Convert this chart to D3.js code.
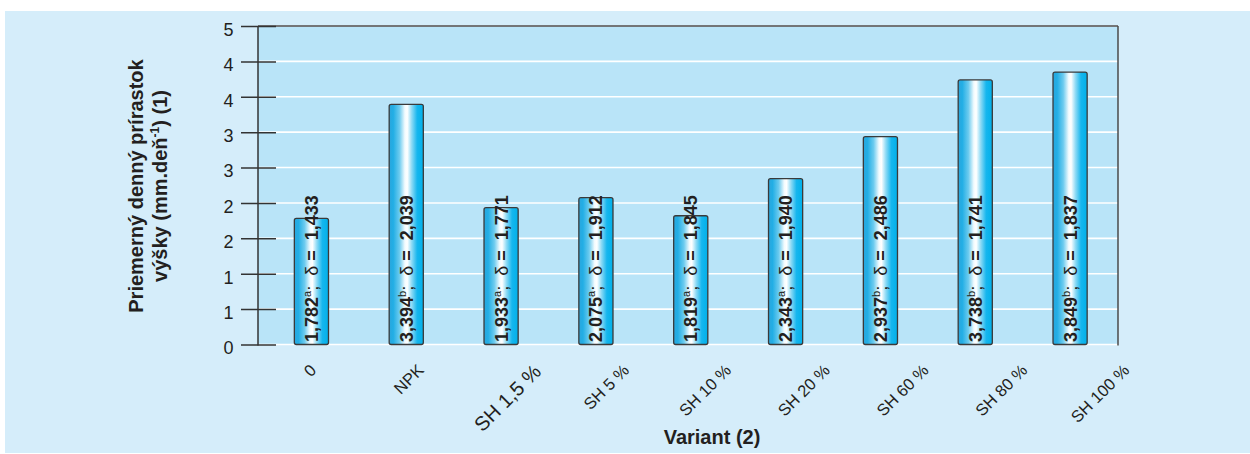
<!DOCTYPE html>
<html>
<head>
<meta charset="utf-8">
<script src="https://cdn.jsdelivr.net/npm/d3@7"></script>
<style>
  html, body { margin: 0; padding: 0; background: #ffffff; }
  svg { display: block; font-family: "Liberation Sans", Arial, sans-serif; }
</style>
</head>
<body>
<svg id="chart" width="1250" height="454"></svg>
<script>
// ---- data ----
const categories = ["0", "NPK", "SH 1,5 %", "SH 5 %", "SH 10 %", "SH 20 %", "SH 60 %", "SH 80 %", "SH 100 %"];
const means      = [1.782, 3.394, 1.933, 2.075, 1.819, 2.343, 2.937, 3.738, 3.849];
const meanLabels = ["1,782", "3,394", "1,933", "2,075", "1,819", "2,343", "2,937", "3,738", "3,849"];
const groups     = ["a", "b", "a", "a", "a", "a", "b", "b", "b"];
const deltas     = ["1,433", "2,039", "1,771", "1,912", "1,845", "1,940", "2,486", "1,741", "1,837"];
const tickValues = [0, 0.5, 1, 1.5, 2, 2.5, 3, 3.5, 4, 4.5];
const tickLabels = ["0", "1", "1", "2", "2", "3", "3", "4", "4", "5"];
const yTitle1 = "Priemerný denný prírastok";
const yTitle2a = "výšky (mm.deň";
const yTitle2sup = "-1";
const yTitle2b = ") (1)";
const xTitle = "Variant (2)";

// ---- layout ----
const svg = d3.select("#chart");
const W = 1250, H = 454;
const plot = { left: 258, right: 1118, top: 26, bottom: 344.5 };
const txt = "#231f20";

svg.append("rect").attr("x", 5).attr("y", 11).attr("width", W - 5).attr("height", H - 12)
  .attr("fill", "#d5edfa");

const y = d3.scaleLinear().domain([0, 4.5]).range([plot.bottom, plot.top]);
const x = d3.scaleBand().domain(categories).range([264, 1117.5]).paddingInner(0.64).paddingOuter(0.32);
const xl = d3.scalePoint().domain(categories).range([310, 1100]);

// plot background
svg.append("rect").attr("x", plot.left).attr("y", plot.top)
  .attr("width", plot.right - plot.left).attr("height", plot.bottom - plot.top)
  .attr("fill", "#b9e4f8");

// gridlines
svg.append("g").selectAll("line").data(tickValues).join("line")
  .attr("x1", plot.left).attr("x2", plot.right)
  .attr("y1", d => y(d)).attr("y2", d => y(d))
  .attr("stroke", "#ffffff").attr("stroke-width", 1.6);

// frame top and right
svg.append("line").attr("x1", plot.left).attr("x2", plot.right)
  .attr("y1", plot.top).attr("y2", plot.top).attr("stroke", "#4a4a4a").attr("stroke-width", 1.5);
svg.append("line").attr("x1", plot.right).attr("x2", plot.right)
  .attr("y1", plot.top).attr("y2", plot.bottom + 1).attr("stroke", "#4a4a4a").attr("stroke-width", 1.5);

// y axis
const yAxis = d3.axisLeft(y).tickValues(tickValues)
  .tickFormat((d, i) => tickLabels[i]).tickSize(17).tickPadding(7);
const gy = svg.append("g").attr("transform", `translate(${plot.left},0)`).call(yAxis);
gy.select(".domain").attr("stroke", "#333").attr("stroke-width", 1.5)
  .attr("d", `M0,${plot.top}V${plot.bottom + 1}`);
gy.selectAll(".tick line").attr("stroke", "#333").attr("stroke-width", 1.5)
  .attr("x1", 18).attr("x2", -17);
gy.selectAll(".tick text").attr("fill", txt).attr("font-size", 18)
  .attr("font-family", "Liberation Sans, Arial, sans-serif")
  .attr("y", 3).attr("dy", "0.35em").attr("x", -24.5);

// gradient
const defs = svg.append("defs");
const grad = defs.append("linearGradient").attr("id", "barGrad")
  .attr("x1", "0%").attr("x2", "100%").attr("y1", "0%").attr("y2", "0%");
[[0, "#2ba6dd"], [0.12, "#22aee5"], [0.3, "#6ccbef"], [0.46, "#f2fbfe"], [0.53, "#ffffff"],
 [0.66, "#8ddaf5"], [0.82, "#16b6ee"], [1, "#00b0ea"]]
  .forEach(([o, c]) => grad.append("stop").attr("offset", o).attr("stop-color", c));

// bars
svg.append("g").selectAll("rect").data(categories).join("rect")
  .attr("x", d => x(d)).attr("width", x.bandwidth())
  .attr("y", (d, i) => y(means[i])).attr("height", (d, i) => y(0) - y(means[i]))
  .attr("rx", 2).attr("ry", 2)
  .attr("fill", "url(#barGrad)").attr("stroke", "#3a3a3a").attr("stroke-width", 1.3);

// bar labels (rotated)
const bl = svg.append("g").selectAll("text").data(categories).join("text")
  .attr("transform", d => `translate(${x(d) + x.bandwidth() / 2 + 6.5},${y(0) - 2.5}) rotate(-90)`)
  .attr("font-size", 18).attr("fill", txt).attr("text-anchor", "start");
bl.each(function (d, i) {
  const t = d3.select(this);
  t.append("tspan").attr("font-weight", "bold").text(meanLabels[i]);
  t.append("tspan").attr("font-size", 11).attr("dy", -7).text(groups[i]);
  t.append("tspan").attr("dy", 7).attr("font-weight", "normal").text(";\u00A0\u00A0δ\u00A0");
  t.append("tspan").attr("font-weight", "bold").text("=\u00A0\u00A0" + deltas[i]);
});

// x labels
const xlab = svg.append("g").selectAll("text").data(categories).join("text")
  .attr("font-size", (d, i) => i === 2 ? 20 : 16.5).attr("fill", txt)
  .attr("text-anchor", "middle").attr("dy", "0.35em").text(d => d);
xlab.each(function (d, i) {
  const t = d3.select(this);
  const L = this.getComputedTextLength();
  const fs = i === 2 ? 20 : 16.5;
  const h = (L + fs * 0.72) * 0.7071;
  t.attr("transform", `translate(${xl(d)},${363 + h / 2}) rotate(-45)`);
});

// y title
const yt = svg.append("text").attr("transform", "translate(143,186) rotate(-90)")
  .attr("text-anchor", "middle").attr("font-weight", "bold").attr("font-size", 20).attr("fill", txt);
yt.append("tspan").attr("x", 0).attr("y", 0).text(yTitle1);
const yt2 = yt.append("tspan").attr("x", 0).attr("y", 24);
yt2.append("tspan").text(yTitle2a);
yt2.append("tspan").attr("font-size", 12).attr("dy", -8).text(yTitle2sup);
yt2.append("tspan").attr("dy", 8).text(yTitle2b);

// x title
svg.append("text").attr("x", 712).attr("y", 444).attr("text-anchor", "middle")
  .attr("font-weight", "bold").attr("font-size", 20).attr("fill", txt).text(xTitle);
</script>
</body>
</html>
